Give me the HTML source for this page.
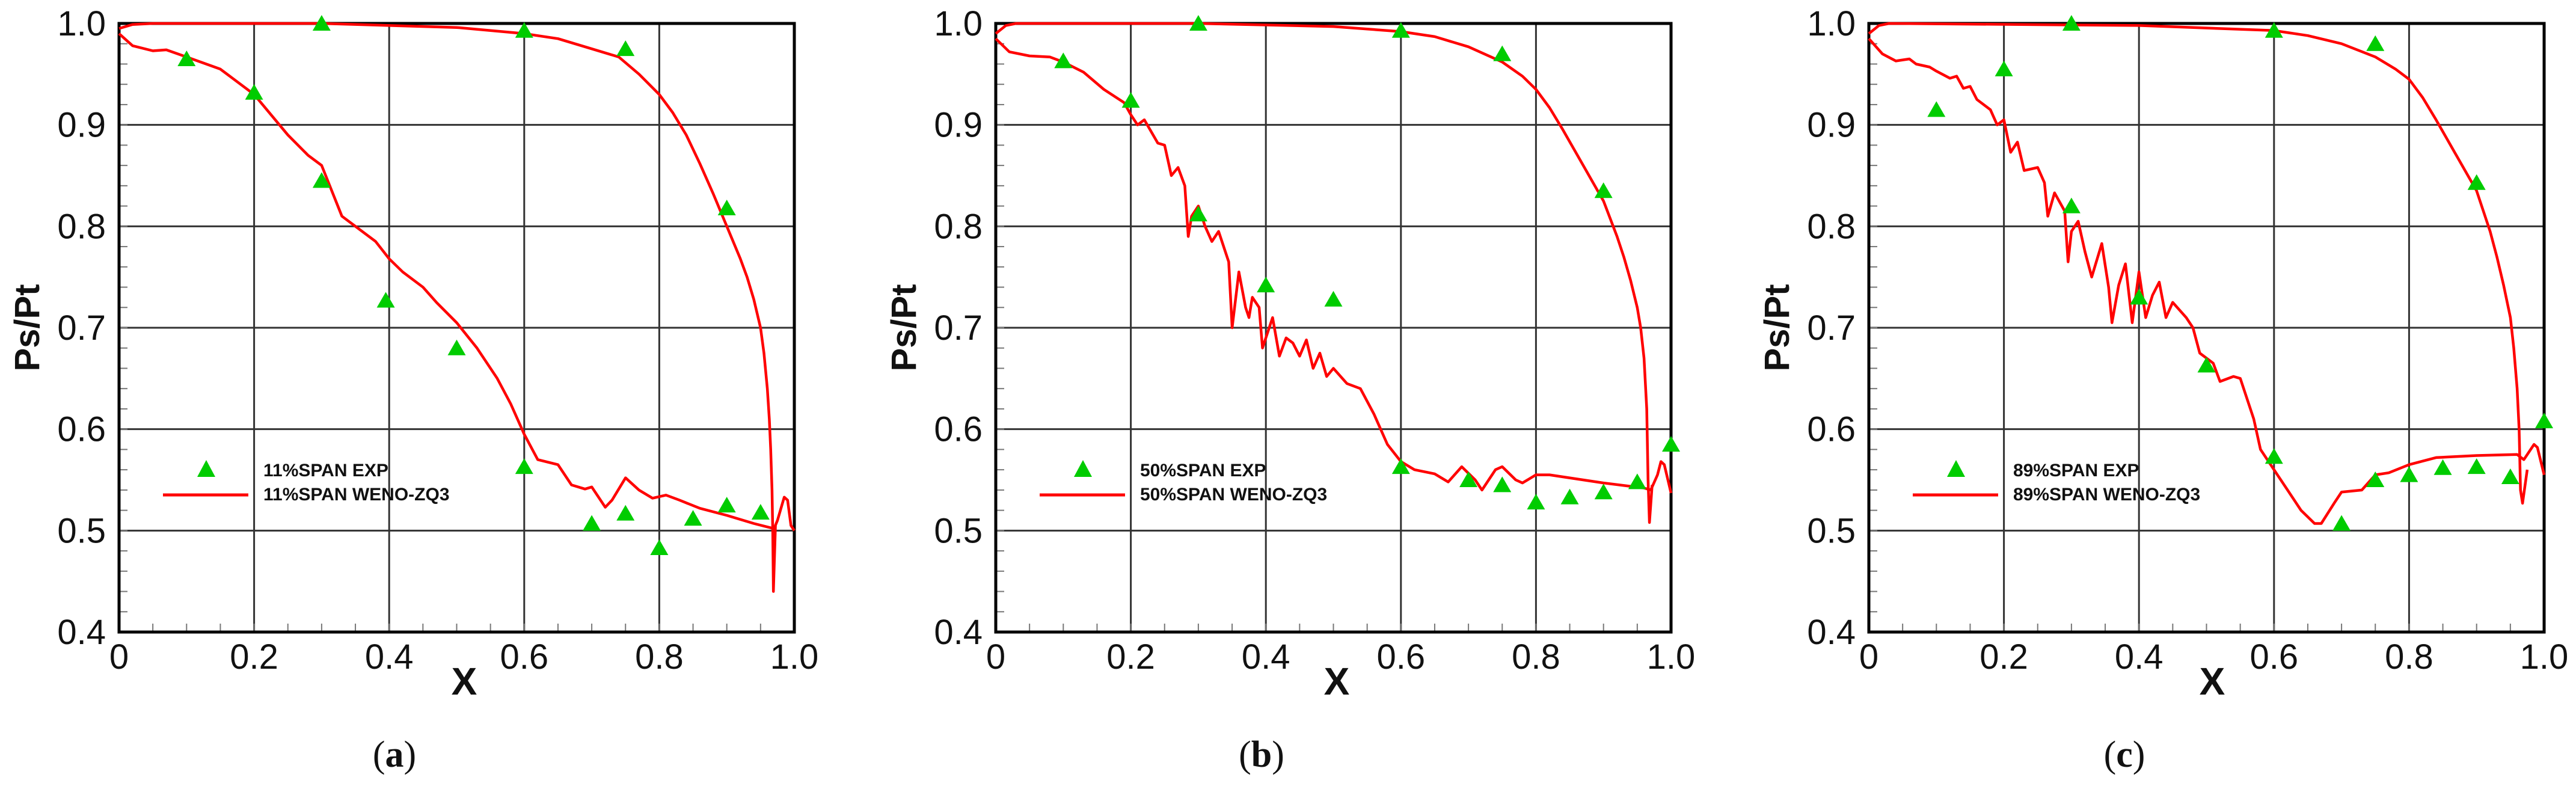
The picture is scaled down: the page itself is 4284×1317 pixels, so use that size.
<!DOCTYPE html>
<html><head><meta charset="utf-8"><style>
html,body{margin:0;padding:0;background:#fff;}
svg{display:block;}
</style></head><body>
<svg id="fig" width="4284" height="1317" viewBox="0 0 4284 1317" xmlns="http://www.w3.org/2000/svg"></svg>
<script>
const xTicks=[0,0.2,0.4,0.6,0.8,1.0];
const xTickLabels=["0","0.2","0.4","0.6","0.8","1.0"];
const yTicks=[0.4,0.5,0.6,0.7,0.8,0.9,1.0];
const yTickLabels=["0.4","0.5","0.6","0.7","0.8","0.9","1.0"];
const panelLabels=["a","b","c"];
const legendExp=["11%SPAN EXP","50%SPAN EXP","89%SPAN EXP"];
const legendCfd=["11%SPAN WENO-ZQ3","50%SPAN WENO-ZQ3","89%SPAN WENO-ZQ3"];

const expA=[[0.1,0.965],[0.2,0.932],[0.3,1.0],[0.3,0.845],[0.395,0.727],[0.5,0.68],[0.6,0.993],[0.6,0.563],[0.7,0.507],[0.75,0.975],[0.75,0.517],[0.8,0.483],[0.85,0.512],[0.9,0.818],[0.9,0.525],[0.95,0.518]];
const upperA=[[0,0.995],[0.02,0.999],[0.05,1.0],[0.3,1.0],[0.4,0.998],[0.5,0.996],[0.6,0.99],[0.65,0.985],[0.7,0.975],[0.74,0.967],[0.77,0.95],[0.8,0.93],[0.82,0.912],[0.84,0.89],[0.86,0.862],[0.88,0.832],[0.9,0.8],[0.92,0.768],[0.93,0.75],[0.94,0.728],[0.95,0.7],[0.955,0.675],[0.96,0.64],[0.963,0.61],[0.965,0.58],[0.967,0.54],[0.968,0.5],[0.969,0.44],[0.972,0.505]];
const lowerA=[[0,0.99],[0.02,0.978],[0.05,0.973],[0.07,0.974],[0.1,0.967],[0.15,0.955],[0.2,0.93],[0.25,0.89],[0.28,0.87],[0.3,0.86],[0.33,0.81],[0.35,0.8],[0.38,0.785],[0.4,0.768],[0.42,0.755],[0.45,0.74],[0.47,0.725],[0.5,0.705],[0.53,0.68],[0.56,0.65],[0.58,0.625],[0.6,0.595],[0.62,0.57],[0.65,0.565],[0.67,0.545],[0.69,0.541],[0.7,0.543],[0.72,0.523],[0.73,0.53],[0.75,0.552],[0.77,0.54],[0.79,0.532],[0.81,0.535],[0.83,0.53],[0.86,0.522],[0.9,0.515],[0.94,0.507],[0.97,0.502],[0.975,0.51],[0.985,0.533],[0.99,0.53],[0.995,0.505],[1.0,0.5]];

const expB=[[0.1,0.963],[0.2,0.924],[0.3,1.0],[0.3,0.812],[0.4,0.742],[0.5,0.728],[0.6,0.993],[0.6,0.563],[0.7,0.55],[0.75,0.97],[0.75,0.545],[0.8,0.528],[0.85,0.533],[0.9,0.835],[0.9,0.538],[0.95,0.548],[1.0,0.585]];
const upperB=[[0,0.99],[0.015,0.998],[0.03,1.0],[0.3,1.0],[0.5,0.997],[0.6,0.992],[0.65,0.987],[0.7,0.977],[0.75,0.962],[0.78,0.948],[0.8,0.935],[0.82,0.917],[0.84,0.895],[0.87,0.86],[0.9,0.825],[0.92,0.79],[0.93,0.77],[0.94,0.747],[0.95,0.72],[0.955,0.7],[0.96,0.67],[0.964,0.62],[0.966,0.55],[0.968,0.508],[0.972,0.545]];
const lowerB=[[0,0.985],[0.02,0.972],[0.05,0.968],[0.08,0.967],[0.1,0.962],[0.13,0.952],[0.16,0.935],[0.19,0.922],[0.2,0.91],[0.21,0.9],[0.22,0.905],[0.24,0.882],[0.25,0.88],[0.26,0.85],[0.27,0.858],[0.28,0.84],[0.285,0.79],[0.29,0.81],[0.3,0.82],[0.31,0.8],[0.32,0.785],[0.33,0.795],[0.345,0.765],[0.35,0.7],[0.36,0.755],[0.37,0.72],[0.375,0.71],[0.38,0.73],[0.39,0.72],[0.395,0.68],[0.41,0.71],[0.42,0.672],[0.43,0.69],[0.44,0.685],[0.45,0.672],[0.46,0.688],[0.47,0.66],[0.48,0.675],[0.49,0.652],[0.5,0.66],[0.52,0.645],[0.54,0.64],[0.56,0.615],[0.58,0.585],[0.6,0.568],[0.62,0.56],[0.65,0.556],[0.67,0.548],[0.69,0.563],[0.71,0.55],[0.72,0.54],[0.74,0.56],[0.75,0.563],[0.77,0.55],[0.78,0.547],[0.8,0.555],[0.82,0.555],[0.9,0.547],[0.96,0.542],[0.97,0.54],[0.98,0.555],[0.985,0.568],[0.99,0.565],[1.0,0.537]];

const expC=[[0.1,0.915],[0.2,0.955],[0.3,1.0],[0.3,0.82],[0.4,0.73],[0.5,0.663],[0.6,0.993],[0.6,0.573],[0.7,0.507],[0.75,0.98],[0.75,0.55],[0.8,0.555],[0.85,0.562],[0.9,0.843],[0.9,0.563],[0.95,0.553],[1.0,0.608]];
const upperC=[[0,0.99],[0.015,0.998],[0.03,1.0],[0.4,0.998],[0.6,0.993],[0.65,0.988],[0.7,0.98],[0.75,0.967],[0.78,0.955],[0.8,0.945],[0.82,0.927],[0.84,0.905],[0.87,0.87],[0.9,0.835],[0.92,0.795],[0.93,0.77],[0.94,0.742],[0.95,0.71],[0.955,0.68],[0.96,0.64],[0.963,0.6],[0.965,0.54],[0.968,0.527],[0.975,0.56]];
const lowerC=[[0,0.985],[0.02,0.97],[0.04,0.963],[0.06,0.965],[0.07,0.96],[0.09,0.957],[0.1,0.953],[0.12,0.946],[0.13,0.948],[0.14,0.936],[0.15,0.938],[0.16,0.925],[0.18,0.915],[0.19,0.9],[0.2,0.905],[0.21,0.873],[0.22,0.883],[0.23,0.855],[0.25,0.858],[0.26,0.843],[0.265,0.81],[0.275,0.833],[0.29,0.815],[0.295,0.765],[0.3,0.795],[0.31,0.805],[0.32,0.775],[0.33,0.75],[0.345,0.783],[0.355,0.74],[0.36,0.705],[0.37,0.742],[0.38,0.763],[0.39,0.705],[0.4,0.755],[0.41,0.71],[0.42,0.732],[0.43,0.745],[0.44,0.71],[0.45,0.725],[0.47,0.71],[0.48,0.7],[0.49,0.675],[0.5,0.67],[0.51,0.665],[0.52,0.647],[0.54,0.652],[0.55,0.65],[0.57,0.61],[0.58,0.58],[0.6,0.56],[0.62,0.54],[0.64,0.52],[0.66,0.507],[0.67,0.507],[0.69,0.528],[0.7,0.538],[0.73,0.54],[0.75,0.555],[0.77,0.557],[0.8,0.565],[0.84,0.572],[0.9,0.574],[0.96,0.575],[0.97,0.57],[0.985,0.585],[0.99,0.582],[1.0,0.555]];

const panels=[
 {left:198,exp:expA,upper:upperA,lower:lowerA,xl:772,lab:656},
 {left:1656,exp:expB,upper:upperB,lower:lowerB,xl:2223,lab:2098},
 {left:3108,exp:expC,upper:upperC,lower:lowerC,xl:3679,lab:3533}
];
const NS="http://www.w3.org/2000/svg";
const svg=document.getElementById('fig');
const TOP=39,BOT=1051,W=1123;
function mk(tag,attrs,parent){const e=document.createElementNS(NS,tag);for(const k in attrs)e.setAttribute(k,attrs[k]);parent.appendChild(e);return e;}

panels.forEach((p,i)=>{
 const sx=v=>p.left+v*W;
 const sy=v=>BOT-(v-0.4)/0.6*(BOT-TOP);
 const g=mk('g',{},svg);
 
 
 xTicks.forEach(t=>{if(t>0&&t<1){const l=mk('line',{x1:sx(t),x2:sx(t),y1:TOP,y2:BOT,stroke:'#333',"stroke-width":3},g);}});
 yTicks.forEach(t=>{if(t>0.4&&t<1){const l=mk('line',{x1:p.left,x2:p.left+W,y1:sy(t),y2:sy(t),stroke:'#333',"stroke-width":3},g);}});
 for(let k=1;k<20;k++){const v=k*0.05;const l=mk('line',{x1:sx(v),x2:sx(v),y1:BOT,y2:BOT-14,stroke:'#777',"stroke-width":2},g);}
 for(let k=1;k<30;k++){const v=0.4+k*0.02;const l=mk('line',{x1:p.left,x2:p.left+14,y1:sy(v),y2:sy(v),stroke:'#777',"stroke-width":2},g);}
 const fr=mk('rect',{x:p.left,y:TOP,width:W,height:BOT-TOP,fill:'none',stroke:'#000',"stroke-width":5},g);
 
 xTicks.forEach((t,j)=>{const tx=mk('text',{x:sx(t),y:1112,"text-anchor":"middle","font-family":"Liberation Sans, sans-serif","font-size":58,fill:'#111'},g);tx.textContent=xTickLabels[j];});
 yTicks.forEach((t,j)=>{const tx=mk('text',{x:p.left-22,y:sy(t)+20,"text-anchor":"end","font-family":"Liberation Sans, sans-serif","font-size":58,fill:'#111'},g);tx.textContent=yTickLabels[j];});
 const xt=mk('text',{x:p.xl,y:1155,"text-anchor":"middle","font-family":"Liberation Sans, sans-serif","font-size":64,"font-weight":"bold",fill:'#111'},g);
 xt.textContent='X';
 const yt=mk('text',{x:0,y:0,"text-anchor":"middle","font-family":"Liberation Sans, sans-serif","font-size":58,"font-weight":"bold",fill:'#111',transform:`translate(${p.left-133},${(TOP+BOT)/2}) rotate(-90)`},g);
 yt.textContent='Ps/Pt';
 [p.upper,p.lower].forEach((c,ci)=>{
  const d=c.map((q,k)=>(k?'L':'M')+sx(q[0]).toFixed(1)+','+sy(q[1]).toFixed(1)).join(' ');
  const pa=mk('path',{d:d,fill:'none',stroke:'#f00',"stroke-width":4.5,"stroke-linejoin":"round"},g);
  
  
 });
 p.exp.forEach(q=>{const cx=sx(q[0]),cy=sy(q[1]);
  const t=mk('polygon',{points:`${cx-15},${cy+12} ${cx+15},${cy+12} ${cx},${cy-14}`,fill:'#00cc00'},g);
  });
 const lg=mk('g',{},g);
 const lx=p.left+145;
 const lt=mk('polygon',{points:`${lx-15},793 ${lx+15},793 ${lx},765`,fill:'#00cc00'},lg);
 
 const ll=mk('line',{x1:p.left+73,x2:p.left+215,y1:823,y2:823,stroke:'#f00',"stroke-width":5},lg);
 
 const t1=mk('text',{x:p.left+240,y:792,"font-family":"Liberation Sans, sans-serif","font-size":30,"font-weight":"bold",fill:'#111'},lg);
 t1.textContent=legendExp[i];
 const t2=mk('text',{x:p.left+240,y:832,"font-family":"Liberation Sans, sans-serif","font-size":30,"font-weight":"bold",fill:'#111'},lg);
 t2.textContent=legendCfd[i];
 const pl=mk('text',{x:p.lab,y:1275,"text-anchor":"middle","font-family":"Liberation Serif, serif","font-size":62,fill:'#111'},g);
 pl.innerHTML='(<tspan font-weight="bold">'+panelLabels[i]+'</tspan>)';
 
});
</script>
</body></html>
